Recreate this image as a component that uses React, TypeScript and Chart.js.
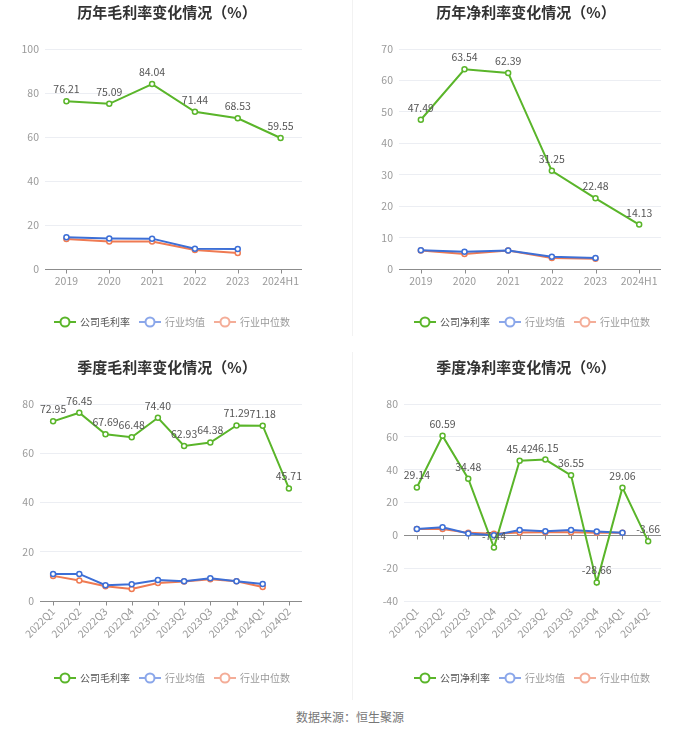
import React, { useEffect, useRef } from "react";
import { Chart, registerables } from "chart.js";
Chart.register(...registerables);

const FONT = '"Noto Sans CJK SC", "Noto Sans", sans-serif';
const GREEN = "#5ab52a";
const BLUE = "#3d6fd6";
const ORANGE = "#ef7a52";
const LEGEND_BLUE = "#8ba7ea";
const LEGEND_ORANGE = "#f4ad98";
const AXIS = "#8c8c8c";
const GRID = "#eceef3";
const TICK = "#9a9a9a";

const annualLabels = ["2019", "2020", "2021", "2022", "2023", "2024H1"];
const quarterLabels = ["2022Q1", "2022Q2", "2022Q3", "2022Q4", "2023Q1", "2023Q2", "2023Q3", "2023Q4", "2024Q1", "2024Q2"];

const annualGrossCompany = [76.21, 75.09, 84.04, 71.44, 68.53, 59.55];
const annualGrossIndustryAvg = [14.4, 13.9, 13.8, 9.2, 9.1, null];
const annualGrossIndustryMedian = [13.6, 12.5, 12.5, 8.6, 7.3, null];

const annualNetCompany = [47.49, 63.54, 62.39, 31.25, 22.48, 14.13];
const annualNetIndustryAvg = [6.0, 5.5, 5.9, 3.9, 3.5, null];
const annualNetIndustryMedian = [5.9, 4.8, 5.9, 3.5, 3.3, null];

const quarterGrossCompany = [72.95, 76.45, 67.69, 66.48, 74.4, 62.93, 64.38, 71.29, 71.18, 45.71];
const quarterGrossIndustryAvg = [11.0, 11.0, 6.4, 6.8, 8.5, 8.0, 9.2, 8.0, 6.9, null];
const quarterGrossIndustryMedian = [10.2, 8.3, 6.0, 4.9, 7.3, 7.9, 8.8, 8.0, 5.7, null];

const quarterNetCompany = [29.14, 60.59, 34.48, -7.44, 45.42, 46.15, 36.55, -28.66, 29.06, -3.66];
const quarterNetIndustryAvg = [3.9, 4.9, 1.1, 0.1, 3.3, 2.5, 3.3, 2.3, 1.5, null];
const quarterNetIndustryMedian = [3.9, 3.9, 1.5, 0.9, 1.7, 1.9, 1.9, 1.5, 1.5, null];

const SERIES_AVG = "行业均值";
const SERIES_MEDIAN = "行业中位数";

type PanelProps = {
  title: string;
  companyName: string;
  labels: string[];
  company: (number | null)[];
  avg: (number | null)[];
  median: (number | null)[];
  yMin: number;
  yMax: number;
  step: number;
  rotate: number;
  left: number;
  top: number;
  width: number;
  height: number;
  area: { l: number; t: number; r: number; b: number };
  xH: number;
  xPad: number;
  titleX: number;
  titleY: number;
  legendX: number;
  legendY: number;
};

function Panel(p: PanelProps) {
  const ref = useRef<HTMLCanvasElement | null>(null);
  useEffect(() => {
    if (!ref.current) return;
    const legendItems = [
      { text: p.companyName, color: GREEN, textColor: "#555" },
      { text: SERIES_AVG, color: LEGEND_BLUE, textColor: "#999" },
      { text: SERIES_MEDIAN, color: LEGEND_ORANGE, textColor: "#999" },
    ];
    const plugin = {
      id: "panelDecor",
      beforeDatasetsDraw(chart: any) {
        const { ctx, chartArea, scales } = chart;
        const x = scales.x;
        const y = scales.y;
        const y0 = Math.round(y.getPixelForValue(0)) + 0.5;
        ctx.save();
        ctx.strokeStyle = AXIS;
        ctx.lineWidth = 1;
        ctx.beginPath();
        ctx.moveTo(chartArea.left, y0);
        ctx.lineTo(chartArea.right, y0);
        for (let i = 0; i < p.labels.length; i++) {
          const px = Math.round(x.getPixelForValue(i)) + 0.5;
          ctx.moveTo(px, y0);
          ctx.lineTo(px, y0 + 4);
        }
        ctx.stroke();
        ctx.restore();
      },
      afterDatasetsDraw(chart: any) {
        const { ctx } = chart;
        const meta = chart.getDatasetMeta(0);
        ctx.save();
        ctx.font = `10.5px ${FONT}`;
        ctx.fillStyle = "#555";
        ctx.textAlign = "center";
        ctx.textBaseline = "middle";
        meta.data.forEach((el: any, i: number) => {
          const v = p.company[i];
          if (v === null || v === undefined) return;
          ctx.fillText(v.toFixed(2), el.x, el.y - 12);
        });
        ctx.restore();
      },
      afterDraw(chart: any) {
        const { ctx } = chart;
        ctx.save();
        ctx.font = `bold 15px ${FONT}`;
        ctx.fillStyle = "#333";
        ctx.textAlign = "center";
        ctx.textBaseline = "middle";
        ctx.fillText(p.title, p.titleX, p.titleY);
        // legend
        ctx.font = `10px ${FONT}`;
        const iconW = 22;
        const gapIT = 4;
        const gapItems = 9;
        const widths = legendItems.map((it) => ctx.measureText(it.text).width);
        let total = 0;
        widths.forEach((w, i) => {
          total += iconW + gapIT + w + (i < widths.length - 1 ? gapItems : 0);
        });
        let cx = p.legendX - total / 2;
        const cy = p.legendY;
        legendItems.forEach((it, i) => {
          ctx.strokeStyle = it.color;
          ctx.lineWidth = 2;
          ctx.beginPath();
          ctx.moveTo(cx, cy);
          ctx.lineTo(cx + iconW, cy);
          ctx.stroke();
          ctx.beginPath();
          ctx.arc(cx + iconW / 2, cy, 4.5, 0, Math.PI * 2);
          ctx.fillStyle = "#fff";
          ctx.fill();
          ctx.stroke();
          ctx.fillStyle = it.textColor;
          ctx.textAlign = "left";
          ctx.textBaseline = "middle";
          ctx.fillText(it.text, cx + iconW + gapIT, cy + 0.5);
          cx += iconW + gapIT + widths[i] + gapItems;
        });
        ctx.restore();
      },
    };

    const mk = (label: string, data: (number | null)[], color: string) => ({
      label,
      data,
      borderColor: color,
      backgroundColor: "#fff",
      borderWidth: 2,
      pointRadius: 2.5,
      pointBorderWidth: 1.5,
      pointBackgroundColor: "#fff",
      pointBorderColor: color,
      tension: 0,
    });

    const chart = new Chart(ref.current, {
      type: "line",
      data: {
        labels: p.labels,
        datasets: [
          mk(p.companyName, p.company, GREEN),
          mk(SERIES_AVG, p.avg, BLUE),
          mk(SERIES_MEDIAN, p.median, ORANGE),
        ],
      },
      options: {
        responsive: false,
        animation: false,
        devicePixelRatio: 1,
        layout: {
          padding: {
            left: 0,
            top: p.area.t,
            right: p.width - p.area.r,
            bottom: p.height - p.area.b - p.xH,
          },
        },
        plugins: {
          legend: { display: false },
          title: { display: false },
          tooltip: { enabled: false },
        },
        scales: {
          x: {
            type: "category",
            offset: true,
            grid: { display: false, drawTicks: false },
            border: { display: false },
            ticks: {
              color: TICK,
              font: { family: FONT, size: 10.5 },
              padding: p.xPad,
              autoSkip: false,
              maxRotation: p.rotate,
              minRotation: p.rotate,
            },
            afterFit: (s: any) => {
              s.height = p.xH;
            },
          },
          y: {
            min: p.yMin,
            max: p.yMax,
            grid: { color: GRID, drawTicks: false },
            border: { display: false },
            ticks: {
              stepSize: p.step,
              color: TICK,
              font: { family: FONT, size: 10.5 },
              padding: 6,
            },
            afterFit: (s: any) => {
              s.width = p.area.l;
            },
          },
        },
      },
      plugins: [plugin],
    } as any);
    return () => chart.destroy();
  }, []);
  return (
    <canvas
      ref={ref}
      width={p.width}
      height={p.height}
      style={{ position: "absolute", left: p.left, top: p.top, width: p.width, height: p.height, display: "block" }}
    />
  );
}

export default function App() {
  return (
    <div style={{ position: "absolute", left: 0, top: 0, width: 700, height: 734, background: "#fff", overflow: "hidden" }}>
      <div style={{ position: "absolute", left: 352, top: 0, width: 1, height: 336, background: "#f2f2f2" }} />
      <div style={{ position: "absolute", left: 352, top: 352, width: 1, height: 348, background: "#f2f2f2" }} />
      <Panel
        title="历年毛利率变化情况（%）"
        companyName="公司毛利率"
        labels={annualLabels}
        company={annualGrossCompany}
        avg={annualGrossIndustryAvg}
        median={annualGrossIndustryMedian}
        yMin={0}
        yMax={100}
        step={20}
        rotate={0}
        left={0}
        top={0}
        width={334}
        height={350}
        area={{ l: 45, t: 49, r: 302, b: 269 }}
        xH={30}
        xPad={6}
        titleX={167}
        titleY={12}
        legendX={172}
        legendY={322}
      />
      <Panel
        title="历年净利率变化情况（%）"
        companyName="公司净利率"
        labels={annualLabels}
        company={annualNetCompany}
        avg={annualNetIndustryAvg}
        median={annualNetIndustryMedian}
        yMin={0}
        yMax={70}
        step={10}
        rotate={0}
        left={350}
        top={0}
        width={350}
        height={350}
        area={{ l: 49, t: 49, r: 311, b: 269 }}
        xH={30}
        xPad={6}
        titleX={176}
        titleY={12}
        legendX={182}
        legendY={322}
      />
      <Panel
        title="季度毛利率变化情况（%）"
        companyName="公司毛利率"
        labels={quarterLabels}
        company={quarterGrossCompany}
        avg={quarterGrossIndustryAvg}
        median={quarterGrossIndustryMedian}
        yMin={0}
        yMax={80}
        step={20}
        rotate={45}
        left={0}
        top={350}
        width={334}
        height={350}
        area={{ l: 40, t: 54, r: 302, b: 251 }}
        xH={60}
        xPad={4}
        titleX={167}
        titleY={17}
        legendX={172}
        legendY={328}
      />
      <Panel
        title="季度净利率变化情况（%）"
        companyName="公司净利率"
        labels={quarterLabels}
        company={quarterNetCompany}
        avg={quarterNetIndustryAvg}
        median={quarterNetIndustryMedian}
        yMin={-40}
        yMax={80}
        step={20}
        rotate={45}
        left={350}
        top={350}
        width={350}
        height={350}
        area={{ l: 54, t: 54, r: 311, b: 251 }}
        xH={60}
        xPad={4}
        titleX={176}
        titleY={17}
        legendX={182}
        legendY={328}
      />
      <div
        style={{
          position: "absolute",
          left: 0,
          top: 709,
          width: 700,
          textAlign: "center",
          font: `12px ${FONT}`,
          lineHeight: "16px",
          color: "#777",
        }}
      >
        数据来源：恒生聚源
      </div>
    </div>
  );
}
